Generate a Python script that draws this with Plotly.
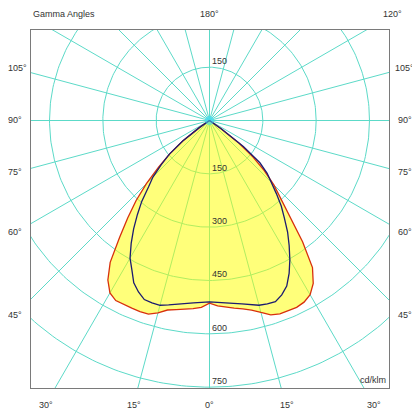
import numpy as np
import plotly.graph_objects as go

# ---------------- data (cd/klm) ----------------
gamma = [0, 2.5, 5, 7.5, 10, 12.5, 15, 17.5, 20, 22.5, 25, 27.5, 30, 32.5,
         35, 37.5, 40, 42.5, 45, 47.5, 50, 52.5, 55, 57.5, 90]
c0_right = [514, 522, 527, 532, 538, 546, 559, 573, 579, 580, 580, 576, 566, 543,
            505, 430, 351, 297, 256, 209, 160, 105, 40, 0, 0]
c180_left = [514, 526, 531, 535, 540, 546, 560, 571, 572, 571, 571, 571, 560, 532,
             487, 416, 358, 306, 251, 195, 146, 95, 35, 0, 0]
c90_right = [510, 512, 514, 519, 524, 531, 538, 541, 542, 531, 514, 485, 452, 417,
             383, 346, 314, 278, 248, 220, 185, 120, 40, 0, 0]
c270_left = [510, 512, 515, 519, 524, 531, 538, 538, 536, 522, 504, 473, 447, 410,
             372, 333, 296, 254, 225, 184, 148, 95, 35, 0, 0]

ring_values = [150, 300, 450, 600, 750]
spoke_angles = list(range(0, 360, 15))
side_labels = ["105°", "90°", "75°", "60°", "45°"]
bottom_labels = ["30°", "15°", "0°", "15°", "30°"]
title_label = "Gamma Angles"
top_labels = ["180°", "120°"]
unit_label = "cd/klm"

# ---------------- helpers ----------------
def to_xy(g_list, i_list, side):
    g = np.radians(np.array(g_list, dtype=float))
    i = np.array(i_list, dtype=float)
    return side * i * np.sin(g), -i * np.cos(g)

def curve(left_vals, right_vals):
    xl, yl = to_xy(gamma, left_vals, -1)
    xr, yr = to_xy(gamma, right_vals, 1)
    x = np.concatenate([xl[::-1], xr])
    y = np.concatenate([yl[::-1], yr])
    return x, y

GRID = "rgb(92,218,200)"
fig = go.Figure()

# spokes
sx, sy = [], []
for a in spoke_angles:
    r = np.radians(a)
    sx += [0, 1200 * np.sin(r), None]
    sy += [0, -1200 * np.cos(r), None]
fig.add_trace(go.Scatter(x=sx, y=sy, mode="lines", line=dict(color=GRID, width=1),
                         hoverinfo="skip", showlegend=False))
# rings
t = np.linspace(0, 2 * np.pi, 361)
cx, cy = [], []
for rv in ring_values:
    cx += list(rv * np.cos(t)) + [None]
    cy += list(rv * np.sin(t)) + [None]
fig.add_trace(go.Scatter(x=cx, y=cy, mode="lines", line=dict(color=GRID, width=1),
                         hoverinfo="skip", showlegend=False))

# red curve with yellow fill
rx, ry = curve(c180_left, c0_right)
fig.add_trace(go.Scatter(x=rx, y=ry, mode="lines", fill="toself",
                         fillcolor="rgba(255,255,0,0.52)",
                         line=dict(color="#d8300c", width=1.3),
                         hoverinfo="skip", showlegend=False))
# blue curve
bx, by = curve(c270_left, c90_right)
fig.add_trace(go.Scatter(x=bx, y=by, mode="lines",
                         line=dict(color="#1c1c70", width=1.3),
                         hoverinfo="skip", showlegend=False))
# centre glow
fig.add_trace(go.Scatter(x=[0], y=[0], mode="markers",
                         marker=dict(size=9, color="rgba(60,220,255,0.55)"),
                         hoverinfo="skip", showlegend=False))

# ---------------- layout ----------------
OFF = 8  # page body margin
W = H = 412
L, R, T, B = 31 - OFF, 389 - OFF, 30 - OFF, 388 - OFF
CX, CY = 209.5 - OFF, 120.5 - OFF
K = 150 / 53.33
fig.update_layout(
    width=W, height=H,
    margin=dict(l=L, r=W - R, t=T, b=H - B),
    paper_bgcolor="white", plot_bgcolor="white",
    xaxis=dict(range=[-(CX - L) * K, (R - CX) * K], showgrid=False, zeroline=False,
               showticklabels=False, ticks="", showline=True, mirror=True,
               linecolor="#7a7a7a", linewidth=1, fixedrange=True),
    yaxis=dict(range=[-(B - CY) * K, (CY - T) * K], showgrid=False, zeroline=False,
               showticklabels=False, ticks="", showline=True, mirror=True,
               linecolor="#7a7a7a", linewidth=1, fixedrange=True),
    font=dict(family="Liberation Sans, Arial, sans-serif", size=9, color="#333333"),
)

def px(text, x, y, xanchor="center"):
    x -= OFF
    y -= OFF
    fig.add_annotation(text=text, xref="paper", yref="paper",
                       x=(x - L) / (R - L), y=(B - y) / (B - T),
                       xanchor=xanchor, yanchor="middle", showarrow=False,
                       font=dict(size=9, color="#333333"))

px(title_label, 30.5, 14, "left")
px(top_labels[0], 209.5, 14)
px(top_labels[1], 392.5, 14)
side_y = [68, 120, 172, 232, 315]
left_x = [17.5, 15, 15, 15, 15]
for lab, yy, xx in zip(side_labels, side_y, left_x):
    px(lab, xx, yy)
    px(lab, 404.5, yy)
bottom_x = [45.5, 133.5, 209.5, 286.5, 374]
for lab, xx in zip(bottom_labels, bottom_x):
    px(lab, xx, 405)
px(unit_label, 387.5, 380, "right")

# ring labels
for rv in ring_values:
    fig.add_annotation(text=str(rv), x=0, y=-rv, xref="x", yref="y", xanchor="left",
                       yanchor="bottom", yshift=-1, showarrow=False,
                       font=dict(size=9, color="#333333"))
fig.add_annotation(text=str(ring_values[0]), x=0, y=ring_values[0], xref="x", yref="y",
                   xanchor="left", yanchor="bottom", yshift=-1, showarrow=False,
                   font=dict(size=9, color="#333333"))

fig.write_html("out.html")
